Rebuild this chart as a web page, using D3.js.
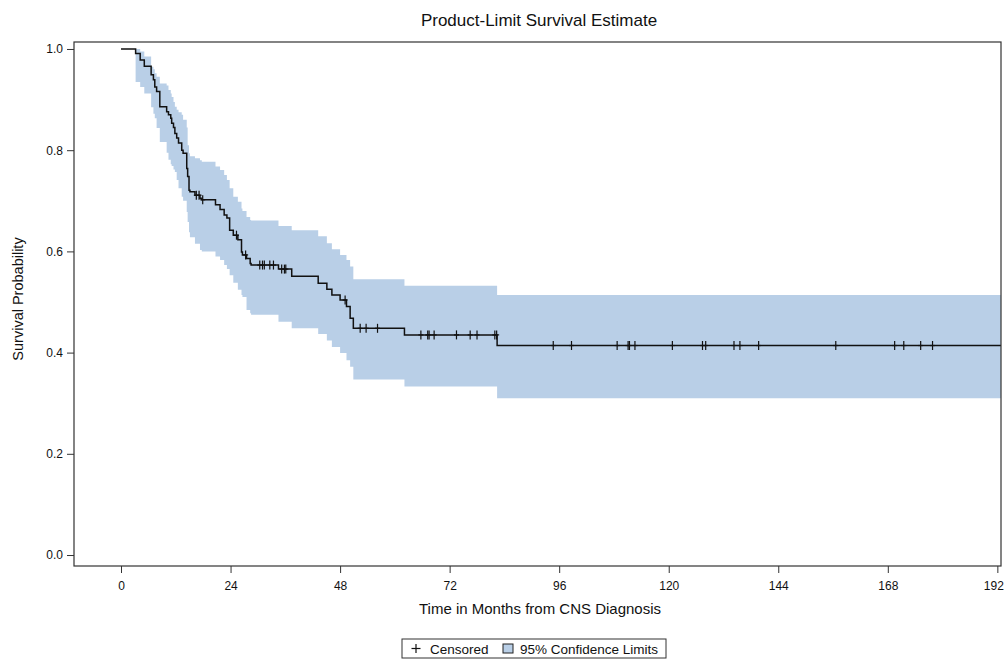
<!DOCTYPE html>
<html>
<head>
<meta charset="utf-8">
<script src="https://cdn.jsdelivr.net/npm/d3@7"></script>
<style>
  body { margin: 0; background: #fff; }
  svg text { font-family: "Liberation Sans Narrow", "Arial Narrow", "Liberation Sans", sans-serif; fill: #111; }
</style>
</head>
<body>
<div id="chart"></div>
<script>
// event times (months) with KM estimate and 95% limits after each step
var eventMonths = [3.2, 4.2, 5.1, 6.6, 7.1, 7.4, 7.8, 8.5, 10.0, 10.4, 10.9, 11.1, 11.5, 11.8, 12.2, 12.6,
    13.3, 13.6, 14.4, 14.6, 14.9, 15.1, 16.2, 17.3, 17.7, 20.7, 21.7, 22.6, 23.2, 23.8, 24.6, 25.6,
    26.4, 26.6, 27.5, 28.3, 28.5, 34.5, 37.4, 43.2, 45.1, 46.2, 48.0, 49.4, 50.2, 50.9, 62.1, 82.4];
var survival = [0.991, 0.978, 0.966, 0.949, 0.939, 0.925, 0.916, 0.886, 0.876, 0.870, 0.863, 0.853, 0.845, 0.833, 0.824, 0.814,
    0.800, 0.794, 0.764, 0.748, 0.721, 0.718, 0.711, 0.705, 0.702, 0.692, 0.683, 0.672, 0.666, 0.642, 0.632, 0.623,
    0.599, 0.593, 0.586, 0.576, 0.573, 0.565, 0.551, 0.537, 0.525, 0.514, 0.504, 0.491, 0.468, 0.448, 0.435, 0.414];
var lowerCL = [0.935, 0.925, 0.912, 0.885, 0.872, 0.863, 0.844, 0.816, 0.795, 0.781, 0.772, 0.769, 0.762, 0.757, 0.741, 0.725,
    0.708, 0.700, 0.678, 0.658, 0.638, 0.628, 0.615, 0.603, 0.600, 0.590, 0.583, 0.573, 0.565, 0.553, 0.538, 0.524,
    0.514, 0.510, 0.484, 0.478, 0.475, 0.461, 0.448, 0.437, 0.424, 0.411, 0.399, 0.385, 0.372, 0.347, 0.333, 0.310];
var upperCL = [1.000, 0.995, 0.985, 0.965, 0.960, 0.952, 0.945, 0.932, 0.928, 0.919, 0.912, 0.905, 0.895, 0.886, 0.880, 0.875,
    0.870, 0.860, 0.845, 0.810, 0.794, 0.788, 0.784, 0.780, 0.777, 0.768, 0.761, 0.751, 0.741, 0.725, 0.708, 0.698,
    0.685, 0.680, 0.668, 0.662, 0.661, 0.650, 0.642, 0.630, 0.616, 0.604, 0.593, 0.583, 0.570, 0.545, 0.532, 0.514];
var censoredMonths = [16.5, 17.1, 17.9, 25.3, 27.3, 30.4, 31.0, 31.4, 32.6, 33.4, 35.2, 35.8, 36.1, 49.1,
    52.4, 53.7, 56.2, 65.7, 67.2, 67.5, 68.6, 73.5, 76.5, 78.0, 81.9, 82.3,
    94.7, 98.7, 108.7, 111.1, 111.4, 112.6, 120.8, 127.4, 128.1, 134.3, 135.6, 139.7,
    156.6, 169.5, 171.5, 175.2, 177.8];
var xTicks = [0, 24, 48, 72, 96, 120, 144, 168, 192];
var yTicks = [0.0, 0.2, 0.4, 0.6, 0.8, 1.0];

var W = 1005, H = 659;
var plot = {left: 74, right: 1001, top: 42, bottom: 566};

var svg = d3.select("#chart").append("svg")
    .attr("width", W).attr("height", H);

var x = d3.scaleLinear().domain([-10.3, 192.8]).range([plot.left, plot.right]);
var y = d3.scaleLinear().domain([-0.0217, 1.0138]).range([plot.bottom, plot.top]);
var xEnd = x.domain()[1];

// confidence band
var bandData = eventMonths.map(function(t, i) { return {t: t, lo: lowerCL[i], hi: upperCL[i]}; });
bandData.push({t: xEnd, lo: lowerCL[lowerCL.length - 1], hi: upperCL[upperCL.length - 1]});

var area = d3.area()
    .curve(d3.curveStepAfter)
    .x(function(d) { return x(d.t); })
    .y0(function(d) { return y(d.lo); })
    .y1(function(d) { return y(d.hi); });

svg.append("path")
    .datum(bandData)
    .attr("d", area)
    .attr("fill", "#b9cfe7");

// survival curve
var curveData = [{t: 0, s: 1}].concat(eventMonths.map(function(t, i) { return {t: t, s: survival[i]}; }));
curveData.push({t: xEnd, s: survival[survival.length - 1]});

var line = d3.line()
    .curve(d3.curveStepAfter)
    .x(function(d) { return x(d.t); })
    .y(function(d) { return y(d.s); });

svg.append("path")
    .datum(curveData)
    .attr("d", line)
    .attr("fill", "none")
    .attr("stroke", "#111")
    .attr("stroke-width", 1.5);

// censored marks
function survAt(t) {
    var i = d3.bisectRight(eventMonths, t);
    return i === 0 ? 1 : survival[i - 1];
}
var cens = svg.append("g").attr("stroke", "#111").attr("stroke-width", 1.2);
censoredMonths.forEach(function(t) {
    var cx = x(t), cy = y(survAt(t));
    cens.append("line").attr("x1", cx).attr("x2", cx).attr("y1", cy - 4.5).attr("y2", cy + 4.5);
    cens.append("line").attr("x1", cx - 2.5).attr("x2", cx + 2.5).attr("y1", cy).attr("y2", cy);
});

// axes
var xAxis = svg.append("g")
    .attr("transform", "translate(0," + plot.bottom + ")")
    .call(d3.axisBottom(x).tickValues(xTicks).tickSize(7).tickPadding(8).tickFormat(d3.format("d")));
var yAxis = svg.append("g")
    .attr("transform", "translate(" + plot.left + ",0)")
    .call(d3.axisLeft(y).tickValues(yTicks).tickSize(7).tickPadding(4).tickFormat(d3.format(".1f")));
[xAxis, yAxis].forEach(function(a) {
    a.select(".domain").remove();
    a.selectAll(".tick line").attr("stroke", "#333");
    a.selectAll(".tick text").style("font-size", "12px").attr("fill", "#222");
});
// keep the last label inside the page
xAxis.selectAll(".tick text").filter(function(d) { return d === 192; }).attr("dx", "-4");

// frame
svg.append("rect")
    .attr("x", plot.left).attr("y", plot.top)
    .attr("width", plot.right - plot.left).attr("height", plot.bottom - plot.top)
    .attr("fill", "none").attr("stroke", "#333").attr("stroke-width", 1.2);

// titles
svg.append("text")
    .attr("x", 539).attr("y", 26)
    .attr("text-anchor", "middle")
    .style("font-size", "17px")
    .text("Product-Limit Survival Estimate");

svg.append("text")
    .attr("x", 540).attr("y", 614)
    .attr("text-anchor", "middle")
    .style("font-size", "15px")
    .text("Time in Months from CNS Diagnosis");

svg.append("text")
    .attr("transform", "translate(23,299) rotate(-90)")
    .attr("text-anchor", "middle")
    .style("font-size", "14.5px")
    .text("Survival Probability");

// legend
var lg = svg.append("g").attr("transform", "translate(402,639)");
lg.append("rect").attr("width", 264).attr("height", 19)
    .attr("fill", "#fff").attr("stroke", "#333").attr("stroke-width", 1);
lg.append("line").attr("x1", 14).attr("x2", 14).attr("y1", 5).attr("y2", 14).attr("stroke", "#111").attr("stroke-width", 1.2);
lg.append("line").attr("x1", 9.5).attr("x2", 18.5).attr("y1", 9.5).attr("y2", 9.5).attr("stroke", "#111").attr("stroke-width", 1.2);
lg.append("text").attr("x", 28).attr("y", 14.5).style("font-size", "13.5px").text("Censored");
lg.append("rect").attr("x", 101).attr("y", 5).attr("width", 10).attr("height", 9)
    .attr("fill", "#b9cfe7").attr("stroke", "#222").attr("stroke-width", 1);
lg.append("text").attr("x", 118).attr("y", 14.5).style("font-size", "13.5px").text("95% Confidence Limits");
</script>
</body>
</html>
